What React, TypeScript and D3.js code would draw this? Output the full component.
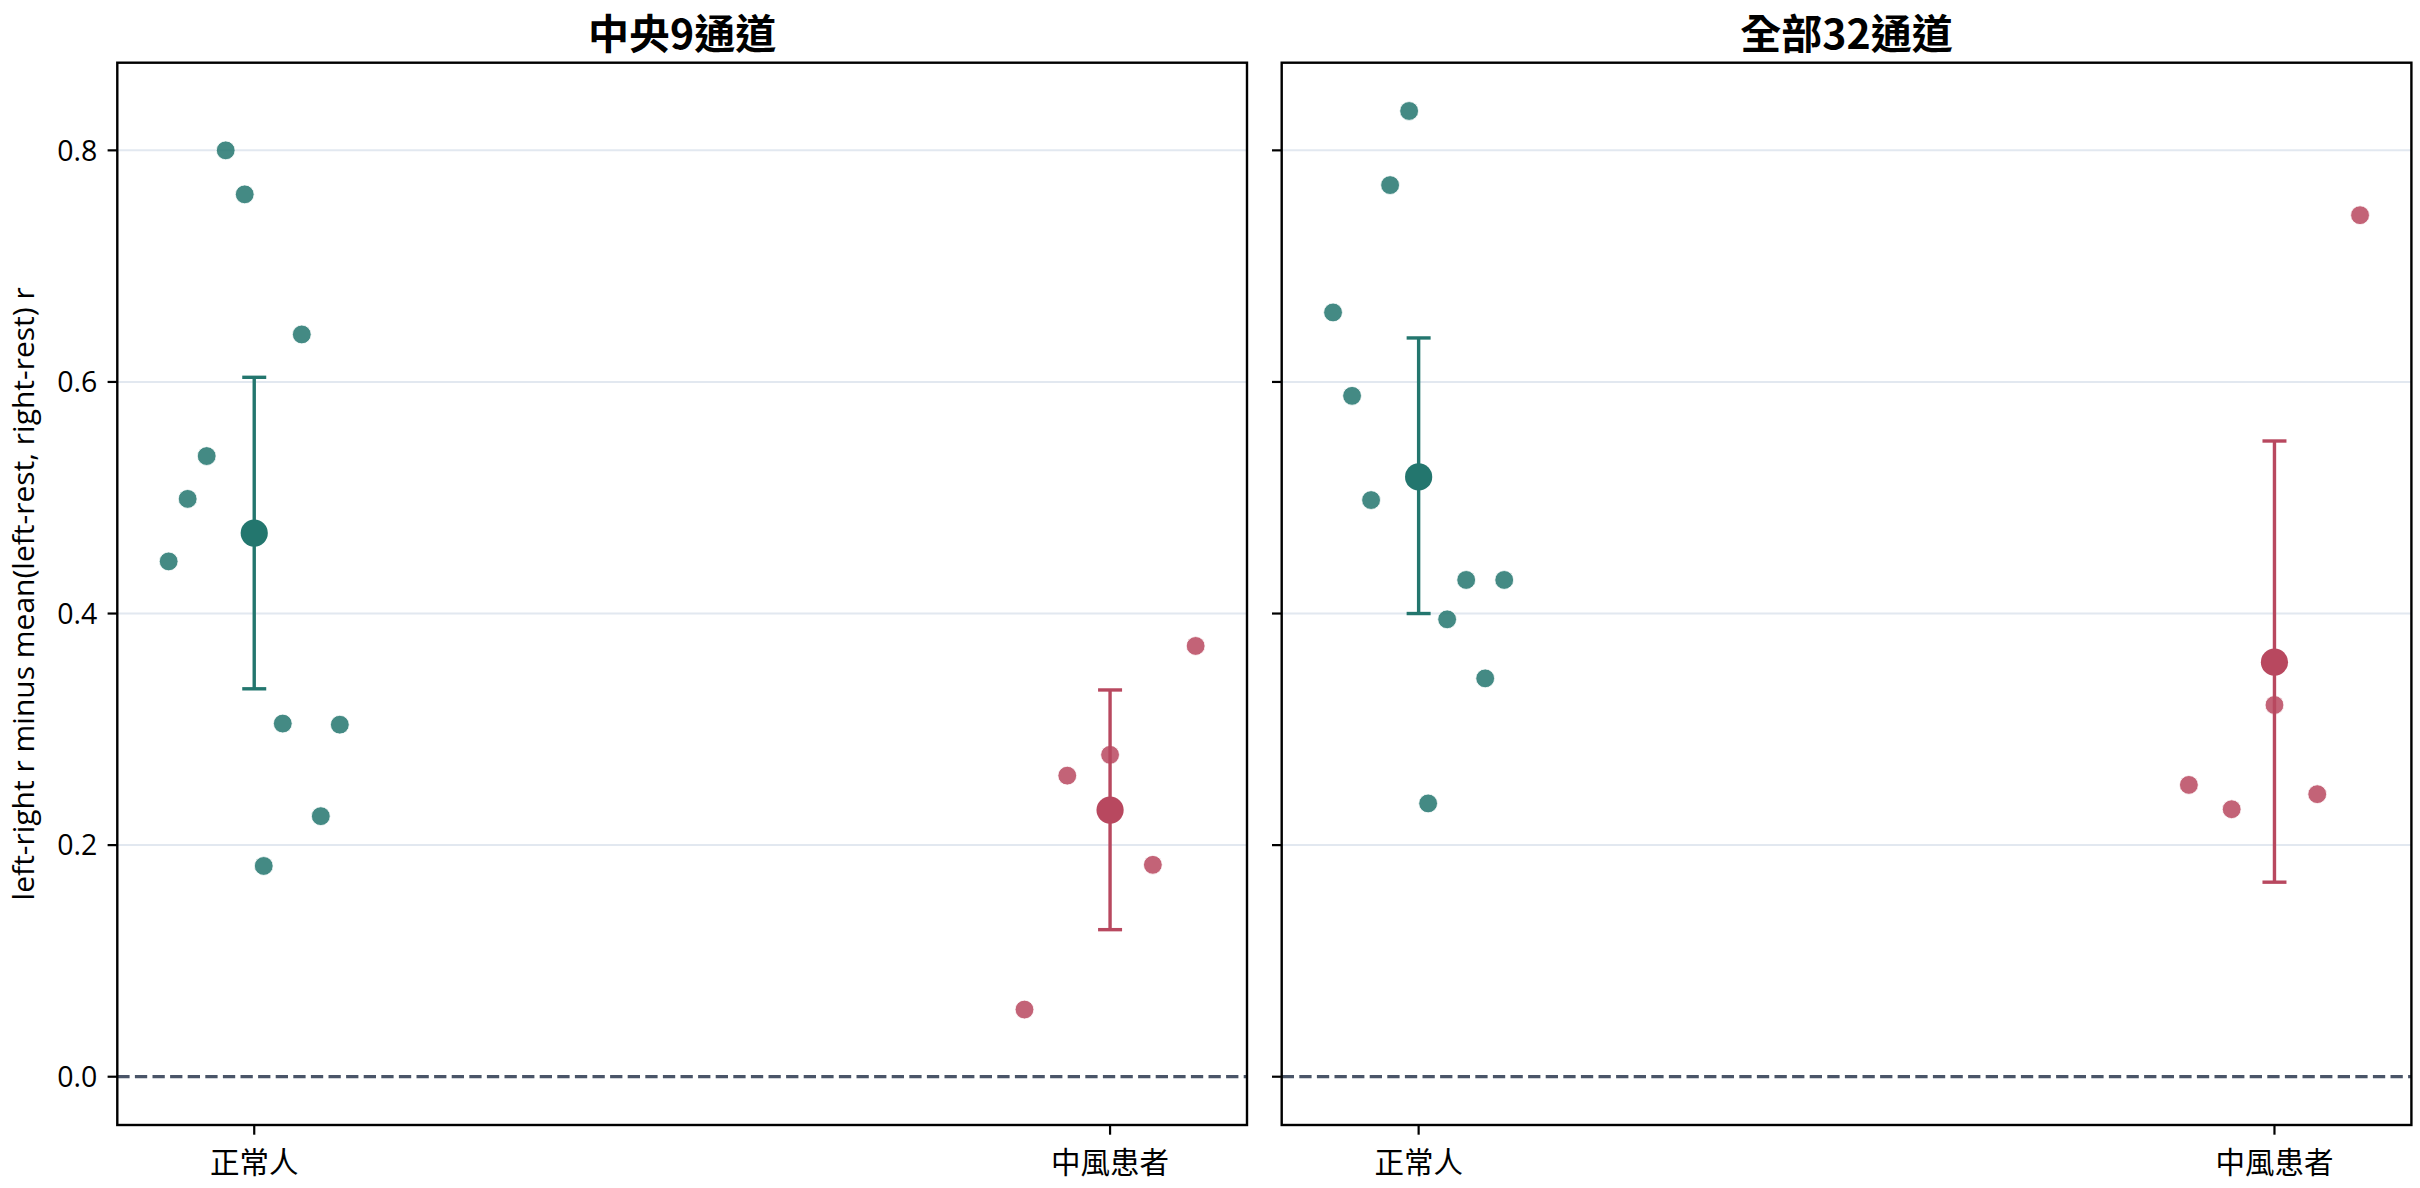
import React from "react";
import * as d3 from "d3";

// ---- data ----
const categories = ["正常人", "中風患者"];
const panelTitles = ["中央9通道", "全部32通道"];
const yLabel = "left-right r minus mean(left-rest, right-rest) r";
const yTicks = [0.0, 0.2, 0.4, 0.6, 0.8];
const yTickLabels = ["0.0", "0.2", "0.4", "0.6", "0.8"];

const center9Normal = [0.445, 0.499, 0.536, 0.8, 0.762, 0.182, 0.305, 0.641, 0.225, 0.304];
const center9Stroke = [0.058, 0.26, 0.278, 0.183, 0.372];
const all32Normal = [0.66, 0.588, 0.498, 0.77, 0.834, 0.236, 0.395, 0.429, 0.344, 0.429];
const all32Stroke = [0.252, 0.231, 0.321, 0.244, 0.744];

const center9Mean = [0.4695, 0.2303];
const center9ErrLow = [0.335, 0.127];
const center9ErrHigh = [0.604, 0.334];
const all32Mean = [0.518, 0.358];
const all32ErrLow = [0.4, 0.168];
const all32ErrHigh = [0.638, 0.549];

const groupColors = ["#23766e", "#b8485f"];

const panels = [
  { title: panelTitles[0], groups: [center9Normal, center9Stroke], mean: center9Mean, lo: center9ErrLow, hi: center9ErrHigh },
  { title: panelTitles[1], groups: [all32Normal, all32Stroke], mean: all32Mean, lo: all32ErrLow, hi: all32ErrHigh },
];

// ---- layout ----
const W = 2420;
const H = 1188;
const panelLefts = [117.3, 1281.7];
const panelWidth = 1129.7;
const top = 62.7;
const bottom = 1125;

const FONT = "'Open Sans', 'Noto Sans CJK TC', sans-serif";
const CJK = "'Noto Sans CJK TC', sans-serif";

const allVals = [0, ...center9Normal, ...center9Stroke, ...all32Normal, ...all32Stroke];
const [vMin, vMax] = d3.extent(allVals) as [number, number];
const pad = (vMax - vMin) * 0.05;
const y = d3.scaleLinear().domain([vMin - pad, vMax + pad]).range([bottom, top]);

function Panel({ p, idx }: { p: (typeof panels)[number]; idx: number }) {
  const x0 = panelLefts[idx];
  const x = d3.scaleLinear().domain([-0.16, 1.16]).range([x0, x0 + panelWidth]);
  return (
    <g>
      {/* grid */}
      {yTicks.slice(1).map((t) => (
        <line key={t} x1={x0} x2={x0 + panelWidth} y1={y(t)} y2={y(t)} stroke="#e2e8f0" strokeWidth={2} />
      ))}
      {/* zero line */}
      <line x1={x0} x2={x0 + panelWidth} y1={y(0)} y2={y(0)} stroke="#4a5568" strokeWidth={3.2} strokeDasharray="12.3 5.3" />
      {/* points */}
      {p.groups.map((vals, gi) => {
        const n = vals.length;
        return vals.map((v, i) => {
          const off = -0.1 + (0.2 * i) / (n - 1);
          return (
            <circle
              key={`${gi}-${i}`}
              cx={x(gi + off)}
              cy={y(v)}
              r={9.4}
              fill={groupColors[gi]}
              fillOpacity={0.85}
              stroke="#ffffff"
              strokeWidth={0.8}
            />
          );
        });
      })}
      {/* error bars + means */}
      {p.mean.map((m, gi) => {
        const cx = x(gi);
        const c = groupColors[gi];
        return (
          <g key={gi}>
            <line x1={cx} x2={cx} y1={y(p.lo[gi])} y2={y(p.hi[gi])} stroke={c} strokeWidth={3.4} />
            <line x1={cx - 12} x2={cx + 12} y1={y(p.lo[gi])} y2={y(p.lo[gi])} stroke={c} strokeWidth={3.4} />
            <line x1={cx - 12} x2={cx + 12} y1={y(p.hi[gi])} y2={y(p.hi[gi])} stroke={c} strokeWidth={3.4} />
            <circle cx={cx} cy={y(m)} r={13.6} fill={c} />
          </g>
        );
      })}
      {/* frame */}
      <rect x={x0} y={top} width={panelWidth} height={bottom - top} fill="none" stroke="#000" strokeWidth={2.4} />
      {/* y ticks */}
      {yTicks.map((t, i) => (
        <g key={t}>
          <line x1={x0 - 9.7} x2={x0} y1={y(t)} y2={y(t)} stroke="#000" strokeWidth={2.2} />
          {idx === 0 && (
            <text x={x0 - 20} y={y(t)} dy="0.36em" textAnchor="end" fontFamily={FONT} fontSize={28.5} fill="#000">
              {yTickLabels[i]}
            </text>
          )}
        </g>
      ))}
      {/* x ticks */}
      {categories.map((c, i) => (
        <g key={c}>
          <line x1={x(i)} x2={x(i)} y1={bottom} y2={bottom + 9.7} stroke="#000" strokeWidth={2.2} />
          <text x={x(i)} y={bottom + 35} dominantBaseline="central" textAnchor="middle" fontFamily={CJK} fontSize={29.5} fill="#000">
            {c}
          </text>
        </g>
      ))}
      {/* title */}
      <text x={x0 + panelWidth / 2} y={31} dominantBaseline="central" textAnchor="middle" fontFamily={CJK} fontWeight={700} fontSize={41} fill="#000">
        {p.title}
      </text>
    </g>
  );
}

export default function App() {
  return (
    <svg
      width={W}
      height={H}
      viewBox={`0 0 ${W} ${H}`}
      style={{ position: "absolute", left: 0, top: 0, background: "#fff" }}
    >
      <rect x={0} y={0} width={W} height={H} fill="#fff" />
      {panels.map((p, i) => (
        <Panel key={i} p={p} idx={i} />
      ))}
      <text
        transform={`translate(22, ${(top + bottom) / 2}) rotate(-90)`}
        textAnchor="middle"
        dominantBaseline="central"
        fontFamily={FONT}
        fontSize={30}
        fill="#000"
      >
        {yLabel}
      </text>
    </svg>
  );
}
